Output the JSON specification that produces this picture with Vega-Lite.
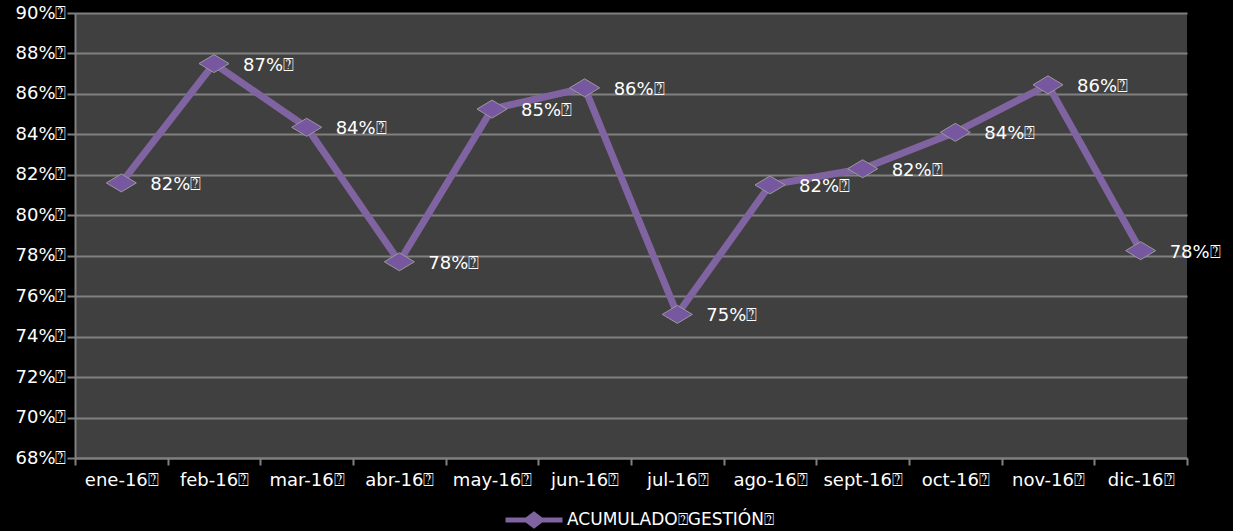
{
  "$schema": "https://vega.github.io/schema/vega-lite/v6.json",
  "width": 1112,
  "height": 445,
  "autosize": {"type": "none"},
  "padding": {"left": 75, "top": 13, "right": 46, "bottom": 73},
  "background": "#000000",
  "config": {
    "view": {"fill": "#404040", "stroke": null},
    "font": "DejaVu Sans"
  },
  "data": {
    "values": [
      {"mes": "ene-16⍰", "valor": 81.6, "etiqueta": "82%⍰", "serie": "ACUMULADO⍰GESTIÓN⍰"},
      {"mes": "feb-16⍰", "valor": 87.5, "etiqueta": "87%⍰", "serie": "ACUMULADO⍰GESTIÓN⍰"},
      {"mes": "mar-16⍰", "valor": 84.35, "etiqueta": "84%⍰", "serie": "ACUMULADO⍰GESTIÓN⍰"},
      {"mes": "abr-16⍰", "valor": 77.7, "etiqueta": "78%⍰", "serie": "ACUMULADO⍰GESTIÓN⍰"},
      {"mes": "may-16⍰", "valor": 85.25, "etiqueta": "85%⍰", "serie": "ACUMULADO⍰GESTIÓN⍰"},
      {"mes": "jun-16⍰", "valor": 86.3, "etiqueta": "86%⍰", "serie": "ACUMULADO⍰GESTIÓN⍰"},
      {"mes": "jul-16⍰", "valor": 75.1, "etiqueta": "75%⍰", "serie": "ACUMULADO⍰GESTIÓN⍰"},
      {"mes": "ago-16⍰", "valor": 81.5, "etiqueta": "82%⍰", "serie": "ACUMULADO⍰GESTIÓN⍰"},
      {"mes": "sept-16⍰", "valor": 82.3, "etiqueta": "82%⍰", "serie": "ACUMULADO⍰GESTIÓN⍰"},
      {"mes": "oct-16⍰", "valor": 84.1, "etiqueta": "84%⍰", "serie": "ACUMULADO⍰GESTIÓN⍰"},
      {"mes": "nov-16⍰", "valor": 86.45, "etiqueta": "86%⍰", "serie": "ACUMULADO⍰GESTIÓN⍰"},
      {"mes": "dic-16⍰", "valor": 78.25, "etiqueta": "78%⍰", "serie": "ACUMULADO⍰GESTIÓN⍰"}
    ]
  },
  "encoding": {
    "x": {
      "field": "mes", "type": "ordinal", "sort": null,
      "scale": {"type": "band", "paddingInner": 0, "paddingOuter": 0},
      "axis": {
        "title": null, "labelAngle": 0, "labelColor": "#ffffff", "labelFontSize": 18,
        "labelPadding": 6, "domainColor": "#808080", "domainWidth": 2,
        "tickColor": "#808080", "tickWidth": 2, "tickSize": 7, "tickBand": "extent",
        "grid": false
      }
    },
    "y": {
      "field": "valor", "type": "quantitative",
      "scale": {"domain": [68, 90], "nice": false, "zero": false},
      "axis": {
        "title": null, "values": [68, 70, 72, 74, 76, 78, 80, 82, 84, 86, 88, 90],
        "labelExpr": "format(datum.value, 'd') + '%⍰'",
        "labelColor": "#ffffff", "labelFontSize": 18, "labelPadding": 1,
        "domainColor": "#808080", "domainWidth": 2,
        "tickColor": "#808080", "tickWidth": 2, "tickSize": 8,
        "grid": true, "gridColor": "#808080", "gridWidth": 2
      }
    }
  },
  "layer": [
    {
      "mark": {"type": "line", "strokeWidth": 7},
      "encoding": {
        "color": {
          "field": "serie", "type": "nominal",
          "scale": {"range": ["#8064A2"]},
          "legend": {
            "title": null, "orient": "none", "legendX": 428, "legendY": 476,
            "labelColor": "#ffffff", "labelFontSize": 17, "labelOffset": 2, "labelLimit": 500,
            "symbolType": "M-1,0L1,0M-0.26,0L0,-0.2L0.26,0L0,0.2Z",
            "symbolSize": 3249, "symbolStrokeWidth": 5,
            "symbolFillColor": "#8064A2", "symbolStrokeColor": "#8064A2"
          }
        }
      }
    },
    {
      "mark": {
        "type": "point", "shape": "M-1,0L0,-0.6L1,0L0,0.6Z", "size": 900,
        "filled": true, "fill": "#7657A0", "stroke": "#9A9A9A", "strokeWidth": 1, "opacity": 1
      }
    },
    {
      "mark": {
        "type": "text", "align": "left", "baseline": "middle", "dx": 29, "dy": 2,
        "fontSize": 18, "color": "#ffffff"
      },
      "encoding": {"text": {"field": "etiqueta"}}
    }
  ]
}
